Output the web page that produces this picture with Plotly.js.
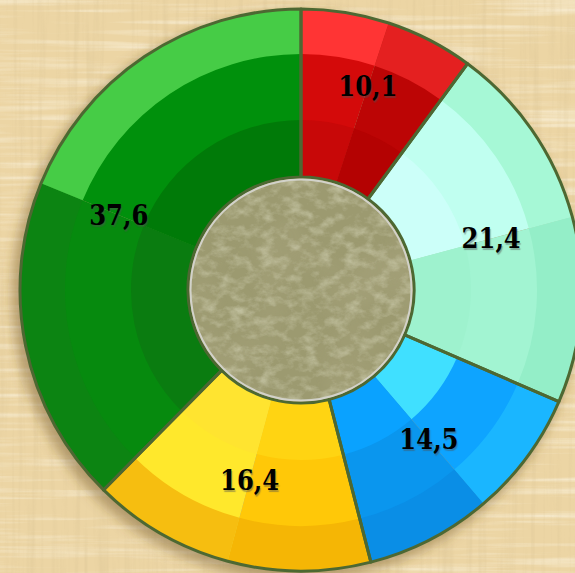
<!DOCTYPE html>
<html>
<head>
<meta charset="utf-8">
<script src="https://cdn.plot.ly/plotly-3.0.1.min.js"></script>
<style>
html,body{margin:0;padding:0;overflow:hidden;background:#eed8a8;}
#chart{width:602px;height:580px;}
</style>
</head>
<body>
<div id="chart"></div>
<script>
// ---- data ----
const categories = ['A', 'B', 'C', 'D', 'E'];
const values = [10.1, 21.4, 14.5, 16.4, 37.6];

// ---- styles (gem facets: [start half, end half]) ----
const outerColors = [['#ff3434', '#e42020'], ['#a6f8d6', '#94eec8'], ['#1ab6ff', '#0a8ee6'], ['#f5b605', '#f6be10'], ['#0c8412', '#46cc46']];
const midColors   = [['#d40a0a', '#bc0505'], ['#c0fff0', '#a2f4d2'], ['#0ea4ff', '#0a96ee'], ['#ffc808', '#ffe82c'], ['#068a0e', '#00900c']];
const innerColors = [['#c80808', '#b40202'], ['#ccfff9', '#9ef2ce'], ['#40e0ff', '#0aa2ff'], ['#ffd412', '#ffe430'], ['#0a7c10', '#007a08']];

const W = 602, H = 580, CX = 301, CY = 290, R = 281, RH = 113;
function dom(r) {
  return {x: [(CX - r) / W, (CX + r) / W], y: [(H - CY - r) / H, (H - CY + r) / H]};
}
const halfVals = values.flatMap(v => [v / 2, v / 2]);
const halfLabels = categories.flatMap(c => [c + '1', c + '2']);

function shade(cols, r, hole) {
  return {
    type: 'pie', values: halfVals, labels: halfLabels, sort: false,
    direction: 'clockwise', rotation: 0, hole: hole, domain: dom(r),
    marker: {colors: cols.flat(), line: {width: 0}},
    textinfo: 'none', hoverinfo: 'skip', showlegend: false
  };
}

const traces = [
  shade(midColors, R, RH / R),
  shade(outerColors, R, 236 / R),
  shade(innerColors, 170, RH / 170),
  {
    type: 'pie', values: values, labels: categories, sort: false,
    direction: 'clockwise', rotation: 0, hole: RH / R, domain: dom(R),
    marker: {colors: values.map(() => 'rgba(0,0,0,0)'), line: {color: '#4d6832', width: 3}},
    texttemplate: '%{value:.1f}', textposition: 'inside', insidetextorientation: 'horizontal',
    insidetextfont: {family: 'DejaVu Serif Condensed, DejaVu Serif', size: 27, color: '#000', weight: 'bold',
      shadow: '1px 2px 1px rgba(80,80,80,0.45)'},
    hoverinfo: 'skip', showlegend: false
  }
];

function svgUri(s) { return 'data:image/svg+xml;charset=utf-8,' + encodeURIComponent(s); }

const bgSvg = `<svg xmlns='http://www.w3.org/2000/svg' width='${W}' height='${H}'>
<defs>
<filter id='h' x='0' y='0' width='100%' height='100%'><feTurbulence type='fractalNoise' baseFrequency='0.006 0.16' numOctaves='3' seed='4'/>
<feColorMatrix type='matrix' values='0 0 0 0 1  0 0 0 0 0.97  0 0 0 0 0.86  2.4 0 0 0 -1.1'/></filter>
<filter id='v' x='0' y='0' width='100%' height='100%'><feTurbulence type='fractalNoise' baseFrequency='0.16 0.006' numOctaves='3' seed='9'/>
<feColorMatrix type='matrix' values='0 0 0 0 0.66  0 0 0 0 0.52  0 0 0 0 0.28  0 2.2 0 0 -1.05'/></filter>
<filter id='s' x='-20%' y='-20%' width='140%' height='140%'><feGaussianBlur stdDeviation='6'/></filter>
</defs>
<rect width='${W}' height='${H}' fill='#ecd5a4'/>
<rect width='${W}' height='${H}' filter='url(#h)' opacity='0.55'/>
<rect width='${W}' height='${H}' filter='url(#v)' opacity='0.35'/>
<circle cx='${CX - 5}' cy='${CY + 6}' r='${R + 3}' fill='rgba(110,85,40,0.45)' filter='url(#s)'/>
</svg>`;

const D = 2 * RH;
const holeSvg = `<svg xmlns='http://www.w3.org/2000/svg' width='${D}' height='${D}' viewBox='0 0 ${D} ${D}'>
<defs>
<filter id='n' x='0' y='0' width='100%' height='100%'><feTurbulence type='fractalNoise' baseFrequency='0.07 0.1' numOctaves='4' seed='7'/>
<feColorMatrix type='matrix' values='0 0 0 0 0.78  0 0 0 0 0.78  0 0 0 0 0.6  1.9 0 0 0 -0.8'/></filter>
<filter id='d' x='0' y='0' width='100%' height='100%'><feTurbulence type='fractalNoise' baseFrequency='0.015' numOctaves='2' seed='3'/>
<feColorMatrix type='matrix' values='0 0 0 0 0.45  0 0 0 0 0.42  0 0 0 0 0.25  0 1.6 0 0 -0.7'/></filter>
<clipPath id='c'><circle cx='${RH}' cy='${RH}' r='${RH - 2}'/></clipPath>
</defs>
<circle cx='${RH}' cy='${RH}' r='${RH - 2}' fill='#9c9a70'/>
<rect width='${D}' height='${D}' filter='url(#d)' clip-path='url(#c)' opacity='0.5'/>
<rect width='${D}' height='${D}' filter='url(#n)' clip-path='url(#c)' opacity='0.55'/>
<circle cx='${RH}' cy='${RH}' r='${RH - 2.5}' fill='none' stroke='#d2d2ca' stroke-width='2'/>
</svg>`;

const layout = {
  width: W, height: H,
  margin: {l: 0, r: 0, t: 0, b: 0},
  paper_bgcolor: '#ecd6a5',
  separators: ', ',
  showlegend: false,
  images: [
    {source: svgUri(bgSvg), xref: 'paper', yref: 'paper', x: 0, y: 1, sizex: 1, sizey: 1,
     xanchor: 'left', yanchor: 'top', sizing: 'stretch', layer: 'below'},
    {source: svgUri(holeSvg), xref: 'paper', yref: 'paper',
     x: (CX - RH) / W, y: 1 - (CY - RH) / H, sizex: D / W, sizey: D / H,
     xanchor: 'left', yanchor: 'top', sizing: 'stretch', layer: 'above'}
  ]
};

Plotly.newPlot('chart', traces, layout, {displayModeBar: false, staticPlot: true});
</script>
</body>
</html>
